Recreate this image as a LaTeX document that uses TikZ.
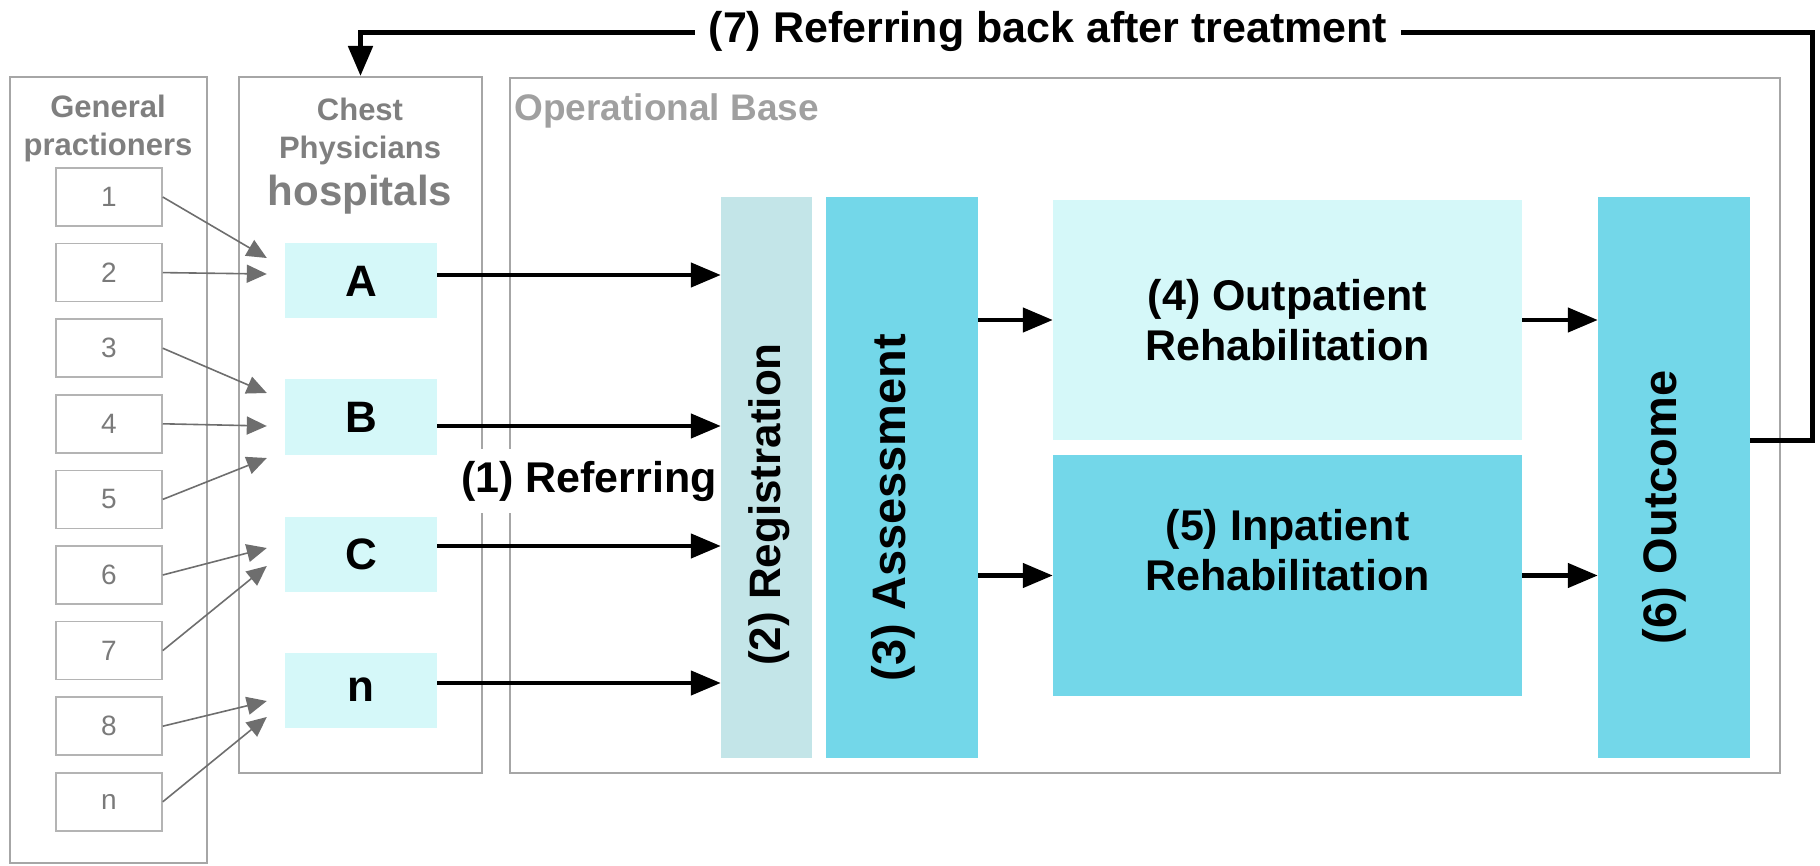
\documentclass[tikz,border=0pt]{standalone}
\usepackage{fontspec}
\setmainfont{Liberation Sans}
\usetikzlibrary{arrows.meta}
\definecolor{panelgray}{HTML}{A6A6A6}
\definecolor{titlegray}{HTML}{7F7F7F}
\definecolor{basegray}{HTML}{A0A0A0}
\definecolor{boxgray}{HTML}{B4B4B4}
\definecolor{numgray}{HTML}{7A7A7A}
\definecolor{arrgray}{HTML}{6E6E6E}
\definecolor{palecyan}{HTML}{D5F8F9}
\definecolor{regcyan}{HTML}{C3E5E8}
\definecolor{deepcyan}{HTML}{73D7E9}
\newcommand{\bigbf}{\fontsize{43}{50}\selectfont\bfseries}
\begin{document}
\begin{tikzpicture}[x=1pt, y=-1pt, line cap=butt, line join=miter, >={Triangle[length=30pt,width=24pt]}]
			\tikzset{panel/.style={draw=panelgray, line width=2pt, inner sep=0pt},
				gpbox/.style={draw=boxgray, line width=1.5pt, minimum width=106pt, minimum height=58pt, inner sep=0pt, text=numgray, font=\fontsize{28}{30}\selectfont},
				hosp/.style={fill=palecyan, minimum width=152pt, minimum height=75pt, inner sep=0pt, font=\fontsize{44}{50}\selectfont\bfseries},
				stage/.style={minimum height=561pt, inner sep=0pt},
				title/.style={text=titlegray, font=\fontsize{31}{38}\selectfont\bfseries, align=center},
				vtext/.style={rotate=90, font=\fontsize{47}{50}\selectfont\bfseries},
				gar/.style={draw=arrgray, line width=1.6pt, -{Triangle[length=20pt,width=18pt]}},
				bar/.style={line width=4.5pt, ->}}
			\useasboundingbox (0,0) rectangle (1820,866);
			% panels
			\node[panel, minimum width=197pt, minimum height=786pt] (gp) at (108.5,470) {};
			\node[panel, minimum width=243pt, minimum height=696pt] (chest) at (360.5,425) {};
			\node[panel, minimum width=1270pt, minimum height=695pt] (base) at (1145,425.5) {};
			\node[title] (gptitle) at (108,128) {General\\practioners};
			\node[title] (chtitle) at (360,131) {Chest\\Physicians};
			\node[title, font=\fontsize{42}{45}\selectfont\bfseries] (hosptitle) at (360,195) {hospitals};
			\node[anchor=west, text=basegray, font=\fontsize{37}{40}\selectfont\bfseries] (basetitle) at (511,111) {Operational Base};
			% general practioners
			\foreach \i/\t in {1/1,2/2,3/3,4/4,5/5,6/6,7/7,8/8,9/n}
				\node[gpbox] (g\i) at (109,{197+75.6*(\i-1)}) {\t};
			% hospitals
			\node[hosp] (hA) at (361,281) {A};
			\node[hosp] (hB) at (361,417) {B};
			\node[hosp] (hC) at (361,554) {C};
			\node[hosp] (hn) at (361,690) {n};
			\foreach \i/\h/\dy in {1/A/23,2/A/7,3/B/24,4/B/-9,5/B/-41,6/C/6,7/C/-12,8/n/-11,9/n/-27}
				\draw[gar] (g\i.east) -- ([xshift=-18pt,yshift=\dy pt]h\h.west);
			% stages
			\node[stage, fill=regcyan, minimum width=91pt] (reg) at (766.5,477.5) {};
			\node[stage, fill=deepcyan, minimum width=152pt] (asmt) at (902,477.5) {};
			\node[fill=palecyan, minimum width=469pt, minimum height=240pt, inner sep=0pt] (outp) at (1287.5,320) {};
			\node[fill=deepcyan, minimum width=469pt, minimum height=241pt, inner sep=0pt] (inp) at (1287.5,575.5) {};
			\node[stage, fill=deepcyan, minimum width=152pt] (outc) at (1674,477.5) {};
			\node[vtext, font=\fontsize{44}{50}\selectfont\bfseries] at ([xshift=3pt,yshift=-27pt]reg.center) {(2) Registration};
			\node[vtext] at ([xshift=-9pt,yshift=-30pt]asmt.center) {(3) Assessment};
			\node[vtext] at ([xshift=-10pt,yshift=-30pt]outc.center) {(6) Outcome};
			\node[font=\bigbf, align=center] at (outp) {(4) Outpatient\\Rehabilitation};
			\node[font=\bigbf, align=center] at ([yshift=25pt]inp.center) {(5) Inpatient\\Rehabilitation};
			% referring
			\node[fill=white, inner xsep=2pt, inner ysep=12pt, font=\bigbf] (refer) at (589,481) {(1) Referring};
			\foreach \h/\dy in {A/6,B/-9,C/8,n/7}
				\draw[bar] ([yshift=\dy pt]h\h.east) -- ([yshift=\dy pt]h\h.east -| reg.west);
			\draw[bar] (asmt.east |- outp.west) -- (outp.west);
			\draw[bar] (asmt.east |- inp.west) -- (inp.west);
			\draw[bar] (outp.east) -- (outp.east -| outc.west);
			\draw[bar] (inp.east) -- (inp.east -| outc.west);
			% referring back
			\coordinate (back) at (1812,33);
			\draw[line width=5pt, ->] (outc.east |- outp.south) -| (back) -| (chest.north);
			\node[fill=white, inner xsep=14pt, font=\bigbf] (backlabel) at (1048,31) {(7) Referring back after treatment};
		\end{tikzpicture}
\end{document}
